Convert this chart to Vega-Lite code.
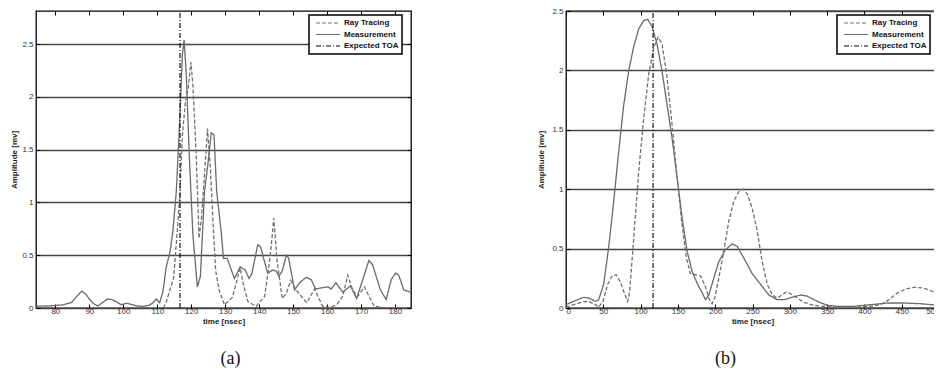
{
  "$schema": "https://vega.github.io/schema/vega-lite/v6.json",
  "background": "white",
  "padding": {"top": 6, "left": 10, "right": -7, "bottom": 0},
  "config": {
    "font": "Liberation Sans",
    "view": {"stroke": "#000", "strokeWidth": 1.3},
    "axis": {
      "labelFont": "Liberation Sans",
      "labelFontSize": 8,
      "labelColor": "#333",
      "titleFont": "Liberation Sans",
      "titleFontSize": 8,
      "titleFontWeight": "bold",
      "titleColor": "#222",
      "tickColor": "#000",
      "tickWidth": 1,
      "domain": false,
      "grid": false
    },
    "legend": {
      "orient": "none",
      "legendY": 4,
      "title": null,
      "strokeColor": "#000",
      "strokeWidth": 1.5,
      "fillColor": "#fff",
      "padding": 3,
      "symbolType": "stroke",
      "symbolSize": 576,
      "symbolStrokeWidth": 1.2,
      "symbolOffset": 3,
      "clipHeight": 10,
      "rowPadding": 1.5,
      "labelFont": "Liberation Sans",
      "labelFontSize": 8,
      "labelFontWeight": "bold",
      "labelColor": "#111",
      "labelOffset": 3
    }
  },
  "datasets": {
    "a": [
      {"t": 74.2, "amp": 0.016, "series": "Measurement"},
      {"t": 78.3, "amp": 0.02, "series": "Measurement"},
      {"t": 82.3, "amp": 0.03, "series": "Measurement"},
      {"t": 84.7, "amp": 0.05, "series": "Measurement"},
      {"t": 86.3, "amp": 0.11, "series": "Measurement"},
      {"t": 87.8, "amp": 0.16, "series": "Measurement"},
      {"t": 89.0, "amp": 0.13, "series": "Measurement"},
      {"t": 90.1, "amp": 0.08, "series": "Measurement"},
      {"t": 91.3, "amp": 0.04, "series": "Measurement"},
      {"t": 92.5, "amp": 0.02, "series": "Measurement"},
      {"t": 93.8, "amp": 0.05, "series": "Measurement"},
      {"t": 95.3, "amp": 0.085, "series": "Measurement"},
      {"t": 96.6, "amp": 0.08, "series": "Measurement"},
      {"t": 97.9, "amp": 0.06, "series": "Measurement"},
      {"t": 99.4, "amp": 0.03, "series": "Measurement"},
      {"t": 100.9, "amp": 0.045, "series": "Measurement"},
      {"t": 102.3, "amp": 0.035, "series": "Measurement"},
      {"t": 103.8, "amp": 0.02, "series": "Measurement"},
      {"t": 105.8, "amp": 0.015, "series": "Measurement"},
      {"t": 107.5, "amp": 0.025, "series": "Measurement"},
      {"t": 108.6, "amp": 0.045, "series": "Measurement"},
      {"t": 109.7, "amp": 0.085, "series": "Measurement"},
      {"t": 110.7, "amp": 0.05, "series": "Measurement"},
      {"t": 111.7, "amp": 0.16, "series": "Measurement"},
      {"t": 112.6, "amp": 0.38, "series": "Measurement"},
      {"t": 113.8, "amp": 0.54, "series": "Measurement"},
      {"t": 114.6, "amp": 0.73, "series": "Measurement"},
      {"t": 115.6, "amp": 1.1, "series": "Measurement"},
      {"t": 116.6, "amp": 1.77, "series": "Measurement"},
      {"t": 117.4, "amp": 2.4, "series": "Measurement"},
      {"t": 117.9, "amp": 2.54, "series": "Measurement"},
      {"t": 118.5, "amp": 2.24, "series": "Measurement"},
      {"t": 119.5, "amp": 1.39, "series": "Measurement"},
      {"t": 120.5, "amp": 0.69, "series": "Measurement"},
      {"t": 121.8, "amp": 0.2, "series": "Measurement"},
      {"t": 122.7, "amp": 0.3, "series": "Measurement"},
      {"t": 123.9, "amp": 1.1, "series": "Measurement"},
      {"t": 124.9, "amp": 1.36, "series": "Measurement"},
      {"t": 125.9, "amp": 1.66, "series": "Measurement"},
      {"t": 126.7, "amp": 1.64, "series": "Measurement"},
      {"t": 127.5, "amp": 1.1, "series": "Measurement"},
      {"t": 128.8, "amp": 0.73, "series": "Measurement"},
      {"t": 129.5, "amp": 0.47, "series": "Measurement"},
      {"t": 130.6, "amp": 0.47, "series": "Measurement"},
      {"t": 132.7, "amp": 0.28, "series": "Measurement"},
      {"t": 134.4, "amp": 0.39, "series": "Measurement"},
      {"t": 135.9, "amp": 0.36, "series": "Measurement"},
      {"t": 137.0, "amp": 0.28, "series": "Measurement"},
      {"t": 137.8, "amp": 0.32, "series": "Measurement"},
      {"t": 139.6, "amp": 0.6, "series": "Measurement"},
      {"t": 140.4, "amp": 0.58, "series": "Measurement"},
      {"t": 142.5, "amp": 0.33, "series": "Measurement"},
      {"t": 144.0, "amp": 0.36, "series": "Measurement"},
      {"t": 145.0, "amp": 0.35, "series": "Measurement"},
      {"t": 145.8, "amp": 0.3, "series": "Measurement"},
      {"t": 146.8, "amp": 0.35, "series": "Measurement"},
      {"t": 148.0, "amp": 0.5, "series": "Measurement"},
      {"t": 148.7, "amp": 0.47, "series": "Measurement"},
      {"t": 150.4, "amp": 0.17, "series": "Measurement"},
      {"t": 151.9, "amp": 0.24, "series": "Measurement"},
      {"t": 153.8, "amp": 0.29, "series": "Measurement"},
      {"t": 155.3, "amp": 0.27, "series": "Measurement"},
      {"t": 156.6, "amp": 0.18, "series": "Measurement"},
      {"t": 158.2, "amp": 0.19, "series": "Measurement"},
      {"t": 160.2, "amp": 0.2, "series": "Measurement"},
      {"t": 161.2, "amp": 0.18, "series": "Measurement"},
      {"t": 162.6, "amp": 0.24, "series": "Measurement"},
      {"t": 164.6, "amp": 0.15, "series": "Measurement"},
      {"t": 166.9, "amp": 0.21, "series": "Measurement"},
      {"t": 168.7, "amp": 0.09, "series": "Measurement"},
      {"t": 170.3, "amp": 0.25, "series": "Measurement"},
      {"t": 172.3, "amp": 0.45, "series": "Measurement"},
      {"t": 173.4, "amp": 0.41, "series": "Measurement"},
      {"t": 175.7, "amp": 0.17, "series": "Measurement"},
      {"t": 177.4, "amp": 0.08, "series": "Measurement"},
      {"t": 178.9, "amp": 0.27, "series": "Measurement"},
      {"t": 180.2, "amp": 0.33, "series": "Measurement"},
      {"t": 181.1, "amp": 0.31, "series": "Measurement"},
      {"t": 182.6, "amp": 0.17, "series": "Measurement"},
      {"t": 184.7, "amp": 0.15, "series": "Measurement"},
      {"t": 111.7, "amp": 0.0, "series": "Ray Tracing"},
      {"t": 112.6, "amp": 0.05, "series": "Ray Tracing"},
      {"t": 113.6, "amp": 0.16, "series": "Ray Tracing"},
      {"t": 114.8, "amp": 0.28, "series": "Ray Tracing"},
      {"t": 115.8, "amp": 0.69, "series": "Ray Tracing"},
      {"t": 116.6, "amp": 1.04, "series": "Ray Tracing"},
      {"t": 117.4, "amp": 1.64, "series": "Ray Tracing"},
      {"t": 118.3, "amp": 1.96, "series": "Ray Tracing"},
      {"t": 119.1, "amp": 2.08, "series": "Ray Tracing"},
      {"t": 119.9, "amp": 2.33, "series": "Ray Tracing"},
      {"t": 120.5, "amp": 2.11, "series": "Ray Tracing"},
      {"t": 121.5, "amp": 1.42, "series": "Ray Tracing"},
      {"t": 122.3, "amp": 0.66, "series": "Ray Tracing"},
      {"t": 123.0, "amp": 0.85, "series": "Ray Tracing"},
      {"t": 123.9, "amp": 1.26, "series": "Ray Tracing"},
      {"t": 124.8, "amp": 1.7, "series": "Ray Tracing"},
      {"t": 125.7, "amp": 1.29, "series": "Ray Tracing"},
      {"t": 126.4, "amp": 0.82, "series": "Ray Tracing"},
      {"t": 127.2, "amp": 0.35, "series": "Ray Tracing"},
      {"t": 128.3, "amp": 0.16, "series": "Ray Tracing"},
      {"t": 129.8, "amp": 0.03, "series": "Ray Tracing"},
      {"t": 132.1, "amp": 0.1, "series": "Ray Tracing"},
      {"t": 134.4, "amp": 0.38, "series": "Ray Tracing"},
      {"t": 135.4, "amp": 0.22, "series": "Ray Tracing"},
      {"t": 136.7, "amp": 0.06, "series": "Ray Tracing"},
      {"t": 139.1, "amp": 0.016, "series": "Ray Tracing"},
      {"t": 141.6, "amp": 0.11, "series": "Ray Tracing"},
      {"t": 142.8, "amp": 0.38, "series": "Ray Tracing"},
      {"t": 143.5, "amp": 0.57, "series": "Ray Tracing"},
      {"t": 144.3, "amp": 0.85, "series": "Ray Tracing"},
      {"t": 145.3, "amp": 0.44, "series": "Ray Tracing"},
      {"t": 146.8, "amp": 0.09, "series": "Ray Tracing"},
      {"t": 148.0, "amp": 0.14, "series": "Ray Tracing"},
      {"t": 149.3, "amp": 0.26, "series": "Ray Tracing"},
      {"t": 150.9, "amp": 0.17, "series": "Ray Tracing"},
      {"t": 154.0, "amp": 0.05, "series": "Ray Tracing"},
      {"t": 156.3, "amp": 0.18, "series": "Ray Tracing"},
      {"t": 158.7, "amp": 0.016, "series": "Ray Tracing"},
      {"t": 160.7, "amp": 0.006, "series": "Ray Tracing"},
      {"t": 162.8, "amp": 0.03, "series": "Ray Tracing"},
      {"t": 164.6, "amp": 0.11, "series": "Ray Tracing"},
      {"t": 166.1, "amp": 0.31, "series": "Ray Tracing"},
      {"t": 167.5, "amp": 0.17, "series": "Ray Tracing"},
      {"t": 169.0, "amp": 0.11, "series": "Ray Tracing"},
      {"t": 171.0, "amp": 0.2, "series": "Ray Tracing"},
      {"t": 172.5, "amp": 0.1, "series": "Ray Tracing"},
      {"t": 173.9, "amp": 0.016, "series": "Ray Tracing"},
      {"t": 176.4, "amp": 0.006, "series": "Ray Tracing"},
      {"t": 178.3, "amp": 0.0, "series": "Ray Tracing"},
      {"t": 184.7, "amp": 0.0, "series": "Ray Tracing"}
    ],
    "b": [
      {"t": 0, "amp": 0.028, "series": "Measurement"},
      {"t": 10.3, "amp": 0.056, "series": "Measurement"},
      {"t": 23.7, "amp": 0.09, "series": "Measurement"},
      {"t": 30.4, "amp": 0.084, "series": "Measurement"},
      {"t": 39.4, "amp": 0.056, "series": "Measurement"},
      {"t": 43.8, "amp": 0.07, "series": "Measurement"},
      {"t": 50.5, "amp": 0.2, "series": "Measurement"},
      {"t": 57.2, "amp": 0.51, "series": "Measurement"},
      {"t": 64.0, "amp": 0.9, "series": "Measurement"},
      {"t": 70.7, "amp": 1.32, "series": "Measurement"},
      {"t": 77.4, "amp": 1.71, "series": "Measurement"},
      {"t": 84.1, "amp": 2.0, "series": "Measurement"},
      {"t": 90.8, "amp": 2.2, "series": "Measurement"},
      {"t": 97.5, "amp": 2.35, "series": "Measurement"},
      {"t": 104.2, "amp": 2.42, "series": "Measurement"},
      {"t": 109.5, "amp": 2.43, "series": "Measurement"},
      {"t": 115.4, "amp": 2.37, "series": "Measurement"},
      {"t": 122.1, "amp": 2.22, "series": "Measurement"},
      {"t": 128.8, "amp": 1.99, "series": "Measurement"},
      {"t": 135.5, "amp": 1.71, "series": "Measurement"},
      {"t": 142.2, "amp": 1.43, "series": "Measurement"},
      {"t": 148.9, "amp": 1.1, "series": "Measurement"},
      {"t": 155.6, "amp": 0.76, "series": "Measurement"},
      {"t": 162.3, "amp": 0.48, "series": "Measurement"},
      {"t": 169.0, "amp": 0.31, "series": "Measurement"},
      {"t": 175.7, "amp": 0.21, "series": "Measurement"},
      {"t": 182.4, "amp": 0.13, "series": "Measurement"},
      {"t": 186.9, "amp": 0.07, "series": "Measurement"},
      {"t": 191.4, "amp": 0.11, "series": "Measurement"},
      {"t": 198.1, "amp": 0.25, "series": "Measurement"},
      {"t": 204.8, "amp": 0.39, "series": "Measurement"},
      {"t": 213.7, "amp": 0.49, "series": "Measurement"},
      {"t": 222.7, "amp": 0.54, "series": "Measurement"},
      {"t": 229.4, "amp": 0.52, "series": "Measurement"},
      {"t": 238.4, "amp": 0.42, "series": "Measurement"},
      {"t": 249.6, "amp": 0.29, "series": "Measurement"},
      {"t": 260.7, "amp": 0.2, "series": "Measurement"},
      {"t": 271.9, "amp": 0.11, "series": "Measurement"},
      {"t": 283.1, "amp": 0.07, "series": "Measurement"},
      {"t": 292.0, "amp": 0.07, "series": "Measurement"},
      {"t": 303.2, "amp": 0.09, "series": "Measurement"},
      {"t": 314.4, "amp": 0.11, "series": "Measurement"},
      {"t": 323.4, "amp": 0.1, "series": "Measurement"},
      {"t": 336.8, "amp": 0.056, "series": "Measurement"},
      {"t": 350.2, "amp": 0.022, "series": "Measurement"},
      {"t": 363.6, "amp": 0.014, "series": "Measurement"},
      {"t": 386.0, "amp": 0.014, "series": "Measurement"},
      {"t": 408.3, "amp": 0.028, "series": "Measurement"},
      {"t": 430.7, "amp": 0.042, "series": "Measurement"},
      {"t": 453.0, "amp": 0.042, "series": "Measurement"},
      {"t": 475.4, "amp": 0.036, "series": "Measurement"},
      {"t": 500.0, "amp": 0.022, "series": "Measurement"},
      {"t": 0, "amp": 0.006, "series": "Ray Tracing"},
      {"t": 10.3, "amp": 0.028, "series": "Ray Tracing"},
      {"t": 21.5, "amp": 0.05, "series": "Ray Tracing"},
      {"t": 30.4, "amp": 0.056, "series": "Ray Tracing"},
      {"t": 39.4, "amp": 0.028, "series": "Ray Tracing"},
      {"t": 43.8, "amp": 0.006, "series": "Ray Tracing"},
      {"t": 49.6, "amp": 0.056, "series": "Ray Tracing"},
      {"t": 55.9, "amp": 0.2, "series": "Ray Tracing"},
      {"t": 61.7, "amp": 0.27, "series": "Ray Tracing"},
      {"t": 67.1, "amp": 0.28, "series": "Ray Tracing"},
      {"t": 72.9, "amp": 0.22, "series": "Ray Tracing"},
      {"t": 79.6, "amp": 0.1, "series": "Ray Tracing"},
      {"t": 82.7, "amp": 0.056, "series": "Ray Tracing"},
      {"t": 85.4, "amp": 0.14, "series": "Ray Tracing"},
      {"t": 90.8, "amp": 0.59, "series": "Ray Tracing"},
      {"t": 97.5, "amp": 1.15, "series": "Ray Tracing"},
      {"t": 104.2, "amp": 1.6, "series": "Ray Tracing"},
      {"t": 110.9, "amp": 1.97, "series": "Ray Tracing"},
      {"t": 117.6, "amp": 2.19, "series": "Ray Tracing"},
      {"t": 123.4, "amp": 2.28, "series": "Ray Tracing"},
      {"t": 128.8, "amp": 2.22, "series": "Ray Tracing"},
      {"t": 135.5, "amp": 1.94, "series": "Ray Tracing"},
      {"t": 142.2, "amp": 1.54, "series": "Ray Tracing"},
      {"t": 148.9, "amp": 1.1, "series": "Ray Tracing"},
      {"t": 155.6, "amp": 0.7, "series": "Ray Tracing"},
      {"t": 161.4, "amp": 0.42, "series": "Ray Tracing"},
      {"t": 166.8, "amp": 0.29, "series": "Ray Tracing"},
      {"t": 173.5, "amp": 0.28, "series": "Ray Tracing"},
      {"t": 180.2, "amp": 0.27, "series": "Ray Tracing"},
      {"t": 186.9, "amp": 0.18, "series": "Ray Tracing"},
      {"t": 191.4, "amp": 0.084, "series": "Ray Tracing"},
      {"t": 195.9, "amp": 0.037, "series": "Ray Tracing"},
      {"t": 199.4, "amp": 0.084, "series": "Ray Tracing"},
      {"t": 204.8, "amp": 0.25, "series": "Ray Tracing"},
      {"t": 211.5, "amp": 0.48, "series": "Ray Tracing"},
      {"t": 218.2, "amp": 0.73, "series": "Ray Tracing"},
      {"t": 225.0, "amp": 0.9, "series": "Ray Tracing"},
      {"t": 231.7, "amp": 0.98, "series": "Ray Tracing"},
      {"t": 237.5, "amp": 1.0, "series": "Ray Tracing"},
      {"t": 242.9, "amp": 0.96, "series": "Ray Tracing"},
      {"t": 249.6, "amp": 0.84, "series": "Ray Tracing"},
      {"t": 256.3, "amp": 0.65, "series": "Ray Tracing"},
      {"t": 263.0, "amp": 0.39, "series": "Ray Tracing"},
      {"t": 269.7, "amp": 0.2, "series": "Ray Tracing"},
      {"t": 276.4, "amp": 0.11, "series": "Ray Tracing"},
      {"t": 283.1, "amp": 0.084, "series": "Ray Tracing"},
      {"t": 289.8, "amp": 0.11, "series": "Ray Tracing"},
      {"t": 295.2, "amp": 0.135, "series": "Ray Tracing"},
      {"t": 301.0, "amp": 0.12, "series": "Ray Tracing"},
      {"t": 309.9, "amp": 0.084, "series": "Ray Tracing"},
      {"t": 318.9, "amp": 0.048, "series": "Ray Tracing"},
      {"t": 332.3, "amp": 0.022, "series": "Ray Tracing"},
      {"t": 345.7, "amp": 0.014, "series": "Ray Tracing"},
      {"t": 363.6, "amp": 0.006, "series": "Ray Tracing"},
      {"t": 386.0, "amp": 0.006, "series": "Ray Tracing"},
      {"t": 408.3, "amp": 0.014, "series": "Ray Tracing"},
      {"t": 421.7, "amp": 0.028, "series": "Ray Tracing"},
      {"t": 432.9, "amp": 0.07, "series": "Ray Tracing"},
      {"t": 444.1, "amp": 0.126, "series": "Ray Tracing"},
      {"t": 455.3, "amp": 0.16, "series": "Ray Tracing"},
      {"t": 466.5, "amp": 0.174, "series": "Ray Tracing"},
      {"t": 477.7, "amp": 0.17, "series": "Ray Tracing"},
      {"t": 488.9, "amp": 0.146, "series": "Ray Tracing"},
      {"t": 500.0, "amp": 0.112, "series": "Ray Tracing"}
    ],
    "toa": [
      {"t": 116.7, "series": "Expected TOA"}
    ]
  },
  "spacing": 124,
  "resolve": {"scale": {"color": "independent", "strokeDash": "independent"}},
  "hconcat": [
    {
      "width": 375,
      "height": 297,
      "title": {"text": "(a)", "orient": "bottom", "font": "Liberation Serif", "fontSize": 18, "fontWeight": "normal", "color": "#111", "dx": 7, "offset": 25},
      "resolve": {"axis": {"x": "independent", "y": "independent"}},
      "layer": [
        {
          "data": {"name": "a"},
          "mark": {"type": "line", "strokeWidth": 1.3, "clip": true},
          "encoding": {
            "x": {"field": "t", "type": "quantitative", "scale": {"domain": [74.3, 184.7], "nice": false, "zero": false},
                  "axis": {"title": "time [nsec]", "values": [80, 90, 100, 110, 120, 130, 140, 150, 160, 170, 180], "tickSize": -4, "labelPadding": 3, "titlePadding": 2}},
            "y": {"field": "amp", "type": "quantitative", "scale": {"domain": [0, 2.815], "nice": false},
                  "axis": {"title": "Amplitude [mv]", "values": [0, 0.5, 1, 1.5, 2, 2.5], "format": "~g", "tickSize": -4, "labelPadding": 7, "titlePadding": 3,
                           "grid": true, "gridColor": "#444", "gridWidth": 1.3}},
            "color": {"field": "series", "type": "nominal",
                      "scale": {"domain": ["Ray Tracing", "Measurement", "Expected TOA"], "range": ["#707070", "#6a6a6a", "#000000"]},
                      "legend": {"legendX": 273}},
            "strokeDash": {"field": "series", "type": "nominal",
                           "scale": {"domain": ["Ray Tracing", "Measurement", "Expected TOA"], "range": [[4, 2], [1, 0], [5, 2, 1, 2]]},
                           "legend": {"legendX": 273}}
          }
        },
        {
          "data": {"name": "toa"},
          "mark": {"type": "rule", "strokeWidth": 1.1},
          "encoding": {
            "x": {"field": "t", "type": "quantitative",
                  "axis": {"orient": "top", "title": null, "labels": false, "values": [80, 90, 100, 110, 120, 130, 140, 150, 160, 170, 180], "tickSize": -4}},
            "y": {"datum": 0, "type": "quantitative",
                  "axis": {"orient": "right", "title": null, "labels": false, "values": [0, 0.5, 1, 1.5, 2, 2.5], "tickSize": -4}},
            "y2": {"datum": 2.815},
            "color": {"field": "series", "type": "nominal"},
            "strokeDash": {"field": "series", "type": "nominal"}
          }
        }
      ]
    },
    {
      "width": 373,
      "height": 297,
      "title": {"text": "(b)", "orient": "bottom", "font": "Liberation Serif", "fontSize": 18, "fontWeight": "normal", "color": "#111", "dx": -27, "offset": 25},
      "resolve": {"axis": {"x": "independent", "y": "independent"}},
      "layer": [
        {
          "data": {"name": "b"},
          "mark": {"type": "line", "strokeWidth": 1.3, "clip": true},
          "encoding": {
            "x": {"field": "t", "type": "quantitative", "scale": {"domain": [0, 500], "nice": false, "zero": false},
                  "axis": {"title": "time [nsec]", "values": [0, 50, 100, 150, 200, 250, 300, 350, 400, 450, 500], "tickSize": -4, "labelPadding": 3, "titlePadding": 2}},
            "y": {"field": "amp", "type": "quantitative", "scale": {"domain": [0, 2.5], "nice": false},
                  "axis": {"title": "Amplitude [mv]", "values": [0, 0.5, 1, 1.5, 2, 2.5], "format": "~g", "tickSize": -4, "labelPadding": 7, "titlePadding": 6,
                           "grid": true, "gridColor": "#444", "gridWidth": 1.3}},
            "color": {"field": "series", "type": "nominal",
                      "scale": {"domain": ["Ray Tracing", "Measurement", "Expected TOA"], "range": ["#707070", "#6a6a6a", "#000000"]},
                      "legend": {"legendX": 271}},
            "strokeDash": {"field": "series", "type": "nominal",
                           "scale": {"domain": ["Ray Tracing", "Measurement", "Expected TOA"], "range": [[4, 2], [1, 0], [5, 2, 1, 2]]},
                           "legend": {"legendX": 271}}
          }
        },
        {
          "data": {"name": "toa"},
          "mark": {"type": "rule", "strokeWidth": 1.1},
          "encoding": {
            "x": {"field": "t", "type": "quantitative",
                  "axis": {"orient": "top", "title": null, "labels": false, "values": [0, 50, 100, 150, 200, 250, 300, 350, 400, 450, 500], "tickSize": -4}},
            "y": {"datum": 0, "type": "quantitative",
                  "axis": {"orient": "right", "title": null, "labels": false, "values": [0, 0.5, 1, 1.5, 2, 2.5], "tickSize": -4}},
            "y2": {"datum": 2.5},
            "color": {"field": "series", "type": "nominal"},
            "strokeDash": {"field": "series", "type": "nominal"}
          }
        }
      ]
    }
  ]
}
